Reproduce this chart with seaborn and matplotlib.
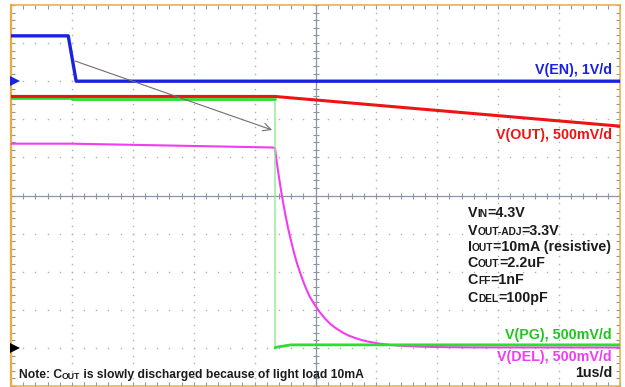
import numpy as np
import matplotlib
matplotlib.use("Agg")
import matplotlib.pyplot as plt
import seaborn as sns

# ---- captured channel data: time in us, level in volts ----
en_t = [0.0, 0.94, 1.07, 10.0]
en_v = [1.19, 1.19, 0.0, 0.0]

out_t = [0.0, 4.33, 10.0]
out_v = [3.30, 3.30, 2.91]

pg_t = [0.0, 1.0, 1.0, 4.335, 4.335, 4.36, 4.6, 10.0]
pg_v = [3.28, 3.28, 3.26, 3.26, 0.0, 0.01, 0.04, 0.04]

del_t = [0.0, 1.0, 4.30, 4.335, 4.36, 4.40, 4.45, 4.50, 4.55, 4.60,
         4.65, 4.70, 4.75, 4.80, 4.85, 4.90, 4.975, 5.05, 5.15, 5.25,
         5.35, 5.45, 5.55, 5.65, 5.75, 5.85, 5.95, 6.06, 6.20, 6.40,
         6.70, 7.00, 7.50, 8.00, 10.0]
del_v = [2.68, 2.68, 2.63, 2.62, 2.46, 2.24, 1.99, 1.77, 1.57, 1.40,
         1.24, 1.10, 0.98, 0.87, 0.77, 0.68, 0.58, 0.49, 0.39, 0.31,
         0.25, 0.20, 0.16, 0.13, 0.105, 0.085, 0.07, 0.055, 0.04, 0.028,
         0.017, 0.011, 0.007, 0.006, 0.005]

# vertical scale (V/div) and ground position (div) of each channel
en_scale, en_gnd = 1.0, 3.0
mv_scale, mv_gnd = 0.5, -4.0

# ---- annotation text ----
label_en = "V(EN), 1V/d"
label_out = "V(OUT), 500mV/d"
label_pg = "V(PG), 500mV/d"
label_del = "V(DEL), 500mV/d"
label_time = "1us/d"
conditions = [
    [("V", False), ("IN", True), ("=4.3V", False)],
    [("V", False), ("OUT-ADJ", True), ("=3.3V", False)],
    [("I", False), ("OUT", True), ("=10mA (resistive)", False)],
    [("C", False), ("OUT", True), ("=2.2uF", False)],
    [("C", False), ("FF", True), ("=1nF", False)],
    [("C", False), ("DEL", True), ("=100pF", False)],
]
note = [("Note: C", False), ("OUT", True),
        (" is slowly discharged because of light load 10mA", False)]

# ---- colours ----
c_en = "#1a22e0"
c_out = "#ee1414"
c_pg = "#2ede2e"
c_pg_edge = "#8fe98f"
c_del = "#f23cf2"
c_grid = "#a9aec2"
c_axis = "#8c93ab"
c_frame = "#eeaa3c"
c_text = "#1b1b1b"

sns.set_style("white")
plt.rcParams["font.family"] = ["Liberation Sans", "DejaVu Sans"]

fig = plt.figure(figsize=(6.25, 3.87), dpi=100)
ax = fig.add_axes([11 / 625, 1 / 387, 609 / 625, 381 / 387])
ax.set_xlim(0, 10)
ax.set_ylim(-5, 5)

# ---- graticule ----
xs_minor = np.round(np.arange(0, 10.001, 0.2), 3)
ys_minor = np.round(np.arange(-5, 5.001, 0.2), 3)
for gx in range(1, 10):
    if gx == 5:
        continue
    ax.plot(np.full_like(ys_minor, gx), ys_minor, ls="none", marker="s",
            ms=1.0, mew=0, color=c_grid, zorder=1)
for gy in range(-4, 5):
    if gy == 0:
        continue
    ax.plot(xs_minor, np.full_like(xs_minor, gy), ls="none", marker="s",
            ms=1.0, mew=0, color=c_grid, zorder=1)
ax.axvline(5, color=c_axis, lw=0.9, zorder=1)
ax.axhline(0, color=c_axis, lw=0.9, zorder=1)
ax.plot(xs_minor, np.zeros_like(xs_minor), ls="none", marker="|", ms=4.5,
        mew=0.8, color=c_axis, zorder=1)
ax.plot(np.full_like(ys_minor, 5), ys_minor, ls="none", marker="_", ms=4.5,
        mew=0.8, color=c_axis, zorder=1)

ax.set_xticks(range(0, 11))
ax.set_yticks(range(-5, 6))
ax.set_xticks(xs_minor, minor=True)
ax.set_yticks(ys_minor, minor=True)
ax.tick_params(which="both", direction="in", length=3, width=0.8,
               color=c_axis, top=True, right=True, bottom=True, left=True,
               labelbottom=False, labelleft=False)
for side, sp in ax.spines.items():
    sp.set_color(c_frame)
    sp.set_linewidth(1.6 if side == "left" else 1.1)

# ---- traces ----
def to_div(values, scale, gnd):
    return [v / scale + gnd for v in values]

en_d = to_div(en_v, en_scale, en_gnd)
out_d = to_div(out_v, mv_scale, mv_gnd)
pg_d = to_div(pg_v, mv_scale, mv_gnd)
del_d = to_div(del_v, mv_scale, mv_gnd)

sns.lineplot(x=del_t, y=del_d, ax=ax, color=c_del, lw=1.5,
             sort=False, estimator=None, zorder=3)
sns.lineplot(x=pg_t, y=pg_d, ax=ax, color=c_pg_edge, lw=1.0,
             sort=False, estimator=None, zorder=4)
sns.lineplot(x=pg_t[:4], y=pg_d[:4], ax=ax, color=c_pg, lw=2.0,
             sort=False, estimator=None, zorder=4)
sns.lineplot(x=pg_t[4:], y=pg_d[4:], ax=ax, color=c_pg, lw=2.0,
             sort=False, estimator=None, zorder=4)
sns.lineplot(x=out_t, y=out_d, ax=ax, color=c_out, lw=2.2,
             sort=False, estimator=None, zorder=5)
sns.lineplot(x=en_t, y=en_d, ax=ax, color=c_en, lw=2.4,
             sort=False, estimator=None, zorder=6)
ax.set_xlabel("")
ax.set_ylabel("")

# ground reference markers on the left edge
ax.plot([0.06], [en_gnd], marker=">", ms=7, color=c_en, mew=0,
        clip_on=False, zorder=7)
ax.plot([0.06], [mv_gnd], marker=">", ms=7, color="black", mew=0,
        clip_on=False, zorder=7)

# arrow from the EN edge to the PG edge
ax.annotate("", xy=(4.286, 1.72), xytext=(1.051, 3.53),
            arrowprops=dict(arrowstyle="->,head_length=0.55,head_width=0.28",
                            color="#6e6e6e", lw=0.8, shrinkA=0, shrinkB=0),
            zorder=8)

# ---- labels ----
FS = 10.3
FS_SMALL = 7.4
FS_NOTE = 8.75
FS_NOTE_SMALL = 6.3


def rich_text(x, y, parts, color, size, small_size):
    lift = 0.2 * (size - small_size)
    first = prev = None
    for text, small in parts:
        fs = small_size if small else size
        if first is None:
            t = ax.text(x, y, text, fontsize=fs, fontweight="bold",
                        color=color, ha="left", va="center", zorder=9)
            first = t
        else:
            t = ax.annotate(text, xy=(1, 0), xycoords=(prev, first),
                            xytext=(0, lift if small else 0),
                            textcoords="offset points", fontsize=fs,
                            fontweight="bold", color=color,
                            ha="left", va="bottom", zorder=9)
        prev = t


x_right = 9.87
for txt, col, yy in [(label_en, c_en, 3.29), (label_out, c_out, 1.59),
                     (label_pg, "#22c322", -3.66), (label_del, c_del, -4.24),
                     (label_time, c_text, -4.66)]:
    ax.text(x_right, yy, txt, fontsize=FS, fontweight="bold", color=col,
            ha="right", va="center", zorder=9)

line_y = [-0.46, -0.92, -1.35, -1.77, -2.22, -2.68]
for parts, yy in zip(conditions, line_y):
    rich_text(7.50, yy, parts, c_text, FS, FS_SMALL)

rich_text(0.13, -4.72, note, c_text, FS_NOTE, FS_NOTE_SMALL)

fig.savefig("out.png", dpi=100, facecolor="white")
